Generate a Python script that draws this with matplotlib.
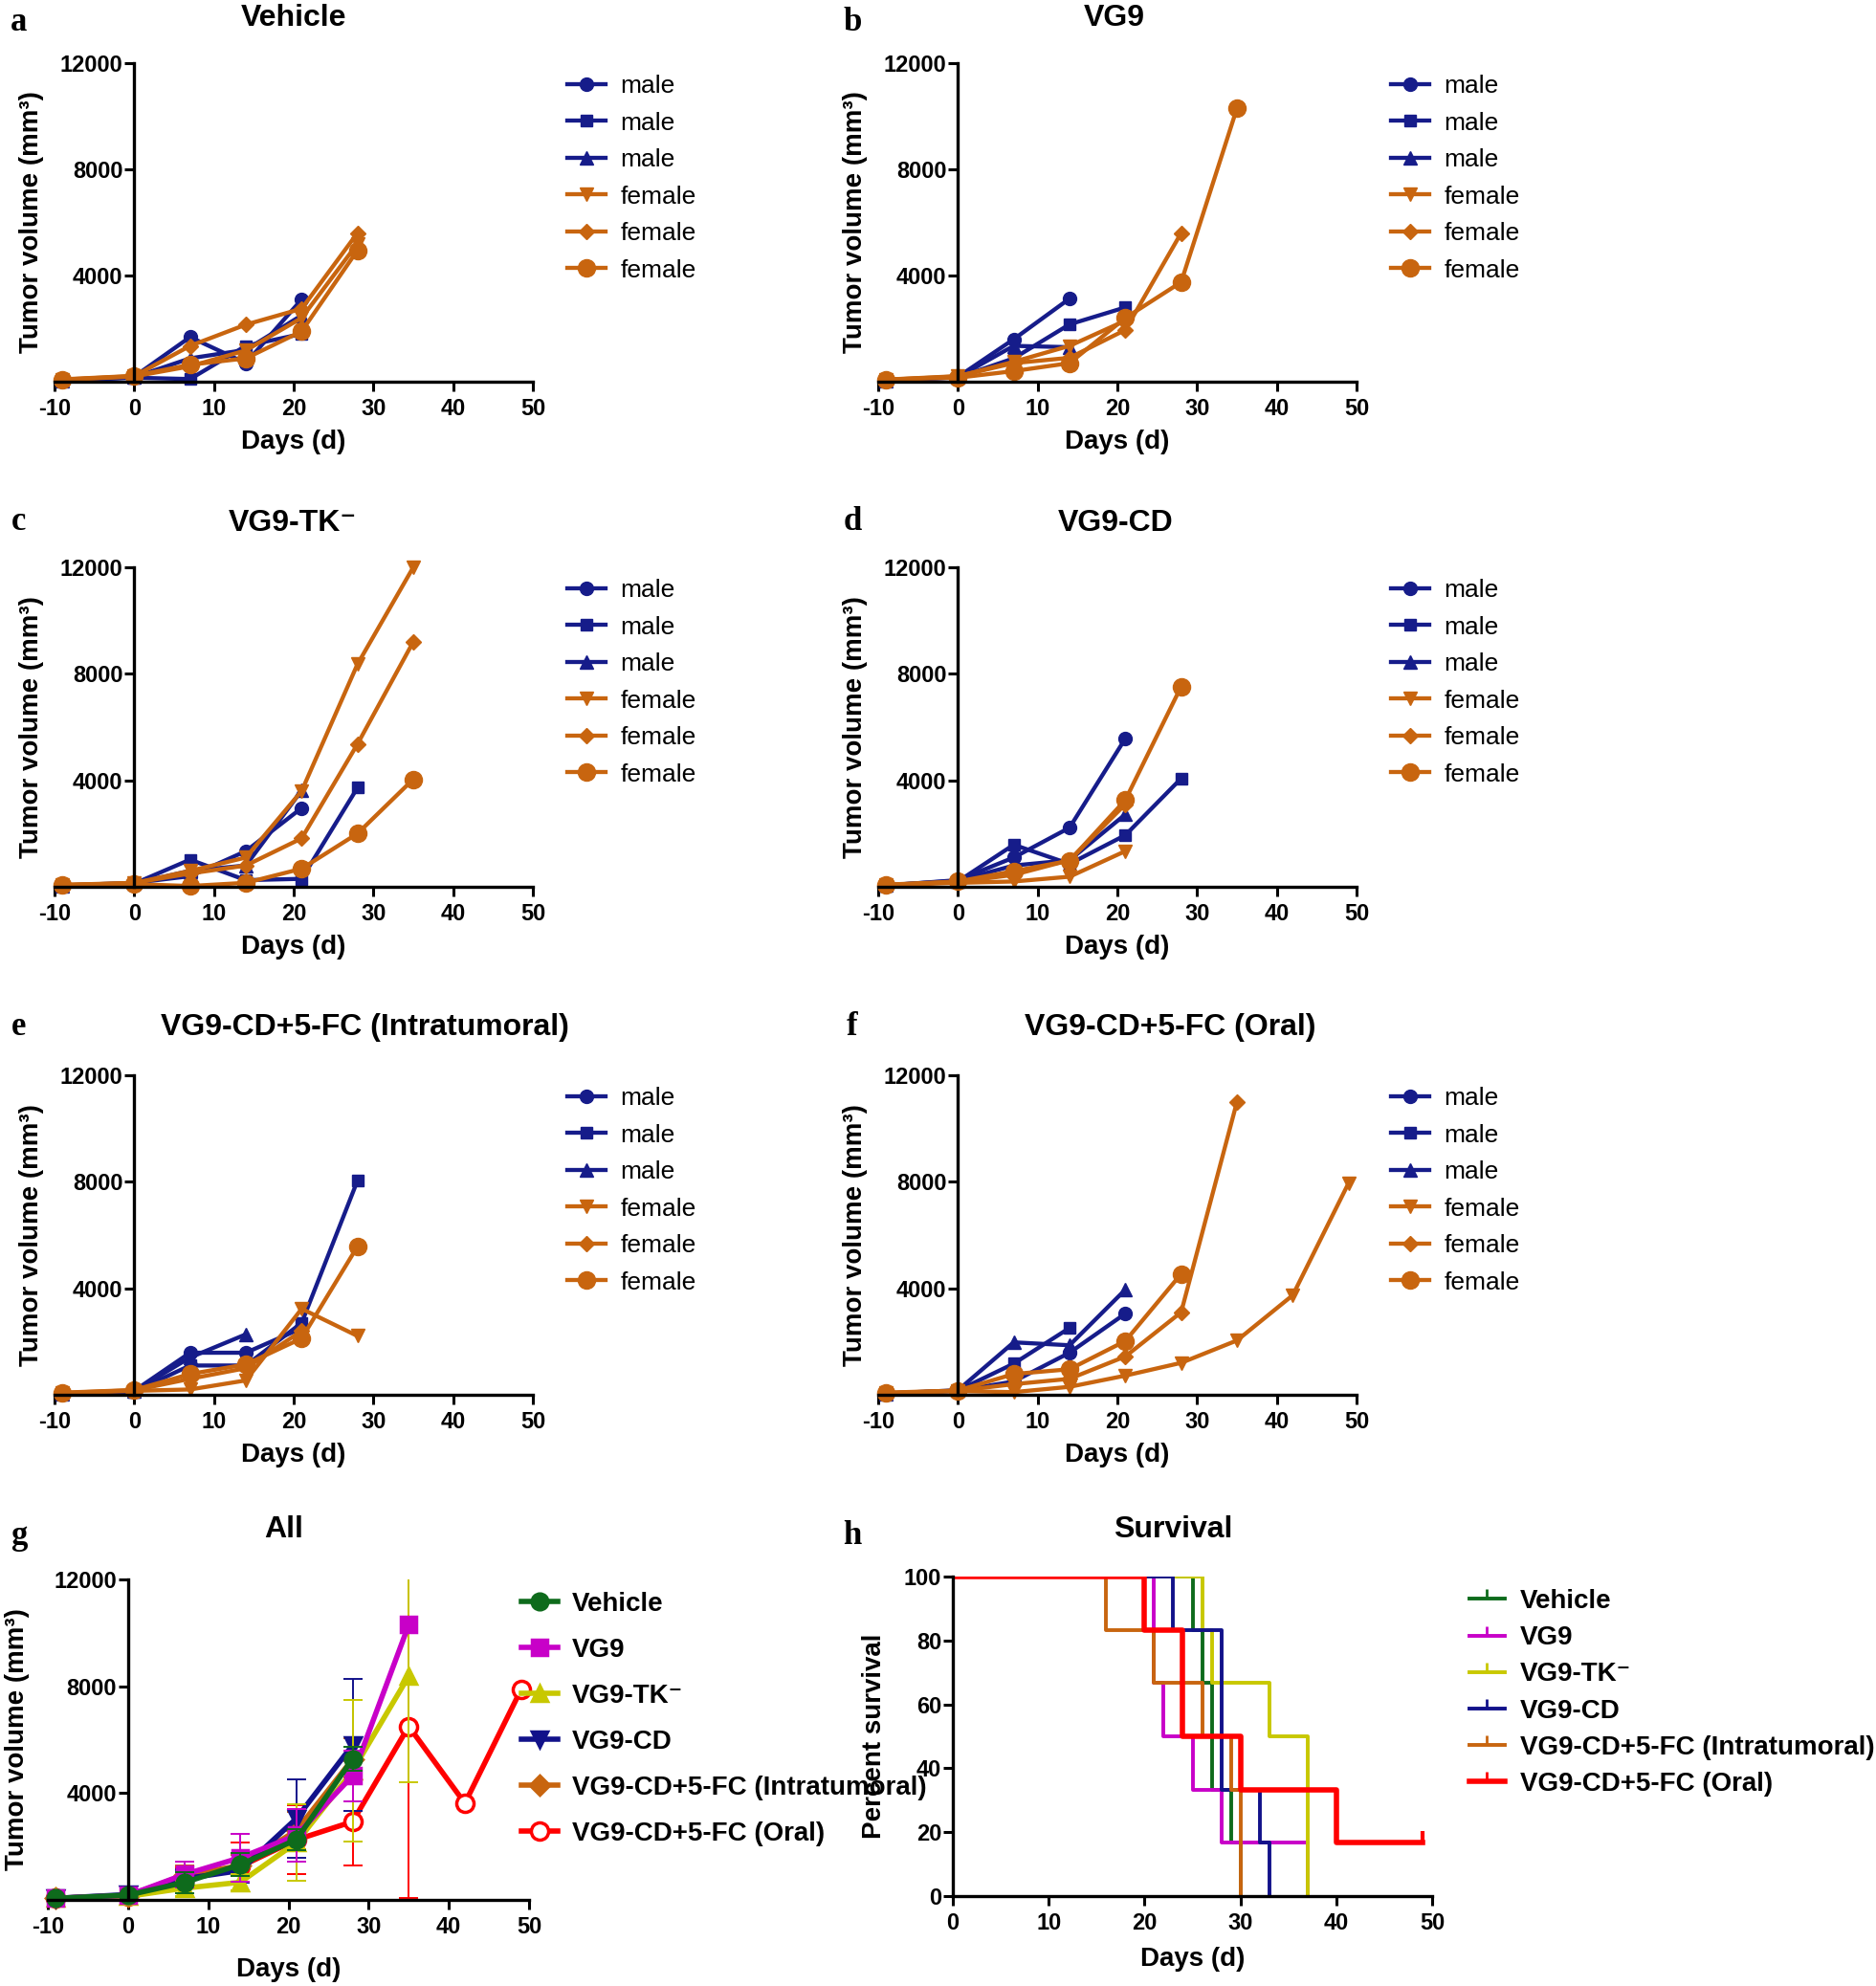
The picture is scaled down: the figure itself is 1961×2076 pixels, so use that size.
import matplotlib
matplotlib.use('Agg')
import matplotlib.pyplot as plt
from matplotlib.lines import Line2D

plt.rcParams['font.family'] = ['Liberation Sans', 'DejaVu Sans']
plt.rcParams['font.weight'] = 'bold'

W, H = 1961, 2076
NAVY = '#161C8A'
ORANGE = '#C8650F'

# measurement days; every series starts at day -9
days = [-9, 0, 7, 14, 21, 28, 35, 42, 49]

# individual tumour volumes (mm^3): 3 males then 3 females per group
vehicle_mice = [
    [60, 190, 1680, 700, 3100],
    [40, 150, 100, 1350, 1800],
    [50, 170, 880, 1200, 2500],
    [70, 200, 580, 1180, 2400, 5200],
    [80, 210, 1350, 2150, 2750, 5600],
    [90, 220, 640, 880, 1900, 4950],
]
vg9_mice = [
    [60, 180, 1600, 3130],
    [50, 160, 880, 2160, 2800],
    [50, 170, 1350, 1300],
    [70, 200, 750, 1350, 2300],
    [80, 210, 700, 900, 1950, 5600],
    [90, 150, 400, 700, 2400, 3750, 10300],
]
tk_mice = [
    [50, 150, 400, 1340, 2960],
    [40, 120, 1020, 250, 300, 3720],
    [50, 130, 600, 800, 3620],
    [60, 140, 600, 1100, 3600, 8360, 12000],
    [70, 150, 500, 800, 1820, 5360, 9200],
    [80, 100, 30, 150, 680, 2000, 4040],
]
cd_mice = [
    [50, 250, 1100, 2220, 5570],
    [40, 200, 1580, 860, 1940, 4070],
    [60, 230, 800, 1000, 2720],
    [60, 150, 200, 380, 1340],
    [70, 180, 450, 1000, 3100],
    [80, 200, 590, 980, 3260, 7520],
]
it_mice = [
    [50, 150, 1580, 1580, 2500],
    [40, 120, 1100, 1100, 2700, 8040],
    [50, 140, 1400, 2270],
    [60, 150, 200, 540, 3230, 2210],
    [70, 170, 600, 1000, 2400],
    [80, 180, 780, 1140, 2120, 5570],
]
oral_mice = [
    [50, 150, 500, 1580, 3050],
    [40, 160, 1170, 2510],
    [50, 170, 1970, 1860, 3950],
    [60, 140, 100, 300, 720, 1200, 2040, 3740, 7950],
    [70, 150, 400, 600, 1440, 3100, 11000],
    [80, 160, 780, 960, 2020, 4540],
]
mouse_labels = ['male', 'male', 'male', 'female', 'female', 'female']

# group means and SEM (panel g)
group_names = ['Vehicle', 'VG9', 'VG9-TK⁻', 'VG9-CD',
               'VG9-CD+5-FC (Intratumoral)', 'VG9-CD+5-FC (Oral)']
veh_mean = [60, 180, 650, 1320, 2260, 5280]
veh_sem = [10, 20, 400, 420, 400, 450]
vg9_mean = [60, 170, 950, 1580, 2420, 4650, 10300]
vg9_sem = [10, 20, 480, 900, 1000, 950, 0]
tk_mean = [60, 130, 440, 660, 2150, 4830, 8380]
tk_sem = [10, 20, 280, 300, 1450, 2660, 3980]
cd_mean = [60, 200, 790, 1100, 3050, 5800]
cd_sem = [10, 20, 350, 450, 1470, 2460]
it_mean = [60, 150, 930, 1280, 2600, 5270]
it_sem = [10, 20, 350, 400, 700, 800]
oral_mean = [60, 160, 820, 1250, 2250, 2930, 6500, 3620, 7870]
oral_sem = [10, 20, 400, 900, 1300, 1650, 6420, 0, 0]

# survival (Kaplan-Meier steps, percent)
veh_t = [0, 25, 26, 27, 29, 30]
veh_s = [100, 83.3, 66.7, 33.3, 16.7, 0]
vg9_t = [0, 21, 22, 25, 28, 37]
vg9_s = [100, 66.7, 50, 33.3, 16.7, 0]
tk_t = [0, 26, 27, 33, 37]
tk_s = [100, 83.3, 66.7, 50, 0]
cd_t = [0, 23, 28, 32, 33]
cd_s = [100, 83.3, 33.3, 16.7, 0]
it_t = [0, 16, 21, 26, 29, 30]
it_s = [100, 83.3, 66.7, 50, 33.3, 0]
oral_t = [0, 20, 24, 30, 40, 49]
oral_s = [100, 83.3, 50, 33.3, 16.7, 16.7]

group_colors = ['#0E6B1C', '#C800C8', '#C8C800', '#12128A', ORANGE, '#FF0000']

volume_xticks = [-10, 0, 10, 20, 30, 40, 50]
volume_yticks = [4000, 8000, 12000]
surv_xticks = [0, 10, 20, 30, 40, 50]
surv_yticks = [0, 20, 40, 60, 80, 100]

fig = plt.figure(figsize=(W / 100, H / 100), dpi=100)


def add_axes(x0, y0, x1, y1):
    return fig.add_axes([x0 / W, 1 - y1 / H, (x1 - x0) / W, (y1 - y0) / H])


def style(ax, xticks, yticks, xlab_y, ylab_x, ylabel):
    for s in ('top', 'right'):
        ax.spines[s].set_visible(False)
    for s in ('left', 'bottom'):
        ax.spines[s].set_linewidth(2.4)
    ax.set_xticks(xticks, [str(t) for t in xticks], fontsize=17, fontweight='bold')
    ax.set_yticks(yticks, [str(t) for t in yticks], fontsize=17, fontweight='bold')
    ax.tick_params(width=2.2, length=7, direction='out')
    ax.tick_params(axis='y', pad=1.5)
    ax.tick_params(axis='x', pad=5)
    ax.set_xlabel('Days (d)', fontsize=20, fontweight='bold', va='center')
    ax.xaxis.set_label_coords(0.5, xlab_y)
    ax.set_ylabel(ylabel, fontsize=20, fontweight='bold', va='center')
    ax.yaxis.set_label_coords(ylab_x, 0.5)


def fig_text(x, y, s, **kw):
    fig.text(x / W, 1 - y / H, s, ha='center', va='center', **kw)


# panels a-f
mouse_markers = ['o', 's', '^', 'v', 'D', 'o']
mouse_sizes = [10, 9, 10, 10, 8, 13]
mouse_colors = [NAVY, NAVY, NAVY, ORANGE, ORANGE, ORANGE]

panels = [
    ('a', 'Vehicle', vehicle_mice, (57, 66, 557, 399), (307, 19), (20, 24)),
    ('b', 'VG9', vg9_mice, (918, 66, 1418, 399), (1165, 19), (891, 24)),
    ('c', 'VG9-TK⁻', tk_mice, (57, 593, 557, 927), (306, 547), (20, 545)),
    ('d', 'VG9-CD', cd_mice, (918, 593, 1418, 927), (1166, 547), (891, 545)),
    ('e', 'VG9-CD+5-FC (Intratumoral)', it_mice, (57, 1124, 557, 1458), (381, 1074), (20, 1074)),
    ('f', 'VG9-CD+5-FC (Oral)', oral_mice, (918, 1124, 1418, 1458), (1223, 1074), (891, 1074)),
]

for letter, title, mice, rect, tpos, lpos in panels:
    ax = add_axes(*rect)
    handles = []
    for vals, mk, ms, col, lab in zip(mice, mouse_markers, mouse_sizes, mouse_colors, mouse_labels):
        h, = ax.plot(days[:len(vals)], vals, color=col, lw=3.1, marker=mk, ms=ms,
                     clip_on=False, label=lab)
        handles.append(h)
    ax.set_xlim(-10, 50)
    ax.set_ylim(0, 12000)
    ax.spines['left'].set_position(('data', 0))
    style(ax, volume_xticks, volume_yticks, -63 / (rect[3] - rect[1]), -24 / 500,
          'Tumor volume (mm³)')
    row1 = rect[1] + 23
    ax.legend(handles=handles, loc='upper left',
              bbox_to_anchor=((rect[0] + 536) / W, 1 - (row1 - 11) / H),
              bbox_transform=fig.transFigure, frameon=False, borderpad=0,
              borderaxespad=0, handlelength=1.5, handletextpad=0.6,
              labelspacing=0.55, prop={'weight': 'normal', 'size': 19})
    fig_text(*tpos, title, fontsize=23, fontweight='bold')
    fig_text(*lpos, letter, fontsize=25, fontweight='bold', family='Liberation Serif')

# panel g
axg = add_axes(50, 1651, 553, 1986)
g_means = [veh_mean, vg9_mean, tk_mean, cd_mean, it_mean, oral_mean]
g_sems = [veh_sem, vg9_sem, tk_sem, cd_sem, it_sem, oral_sem]
g_markers = ['o', 's', '^', 'v', 'D', 'o']
g_sizes = [12, 11, 12, 12, 10, 13]
g_handles = [None] * 6
for i in [5, 4, 3, 2, 1, 0]:
    m, e, col = g_means[i], g_sems[i], group_colors[i]
    x = days[:len(m)]
    xe = [d for d, s in zip(x, e) if s > 0]
    ye = [v for v, s in zip(m, e) if s > 0]
    ee = [s for s in e if s > 0]
    axg.errorbar(xe, ye, yerr=ee, fmt='none', ecolor=col, elinewidth=1.4,
                 capsize=7, capthick=1.4)
    face = 'white' if i == 5 else col
    h, = axg.plot(x, m, color=col, lw=4, marker=g_markers[i], ms=g_sizes[i],
                  mfc=face, mec=col, mew=2.5, clip_on=False, label=group_names[i])
    g_handles[i] = h
axg.set_xlim(-10, 50)
axg.set_ylim(0, 12000)
axg.spines['left'].set_position(('data', 0))
style(axg, volume_xticks, volume_yticks, -73 / 335, -31.5 / 503, 'Tumor volume (mm³)')
axg.legend(handles=g_handles, loc='upper left',
           bbox_to_anchor=(545 / W, 1 - (1673 - 9) / H), bbox_transform=fig.transFigure,
           frameon=False, borderpad=0, borderaxespad=0, handlelength=1.37,
           handletextpad=0.54, labelspacing=0.79, prop={'weight': 'bold', 'size': 20})
fig_text(297, 1599, 'All', fontsize=23, fontweight='bold')
fig_text(20, 1605, 'g', fontsize=25, fontweight='bold', family='Liberation Serif')

# panel h
axh = add_axes(996, 1648, 1497, 1982)
s_t = [veh_t, vg9_t, tk_t, cd_t, it_t, oral_t]
s_s = [veh_s, vg9_s, tk_s, cd_s, it_s, oral_s]
s_lw = [2.8, 2.8, 2.8, 2.8, 2.8, 4.0]
for t, s, col, lw in zip(s_t, s_s, group_colors, s_lw):
    axh.step(t, s, where='post', color=col, lw=lw)
axh.plot(oral_t[-1:], oral_s[-1:], color=group_colors[5], marker=2, ms=9, mew=3)
axh.set_xlim(0, 50)
axh.set_ylim(0, 100)
style(axh, surv_xticks, surv_yticks, -66 / 334, -82 / 501, 'Percent survival')
h_handles = [Line2D([], [], color=c, lw=lw, marker=2, ms=7, mew=2)
             for c, lw in zip(group_colors, s_lw)]
axh.legend(h_handles, group_names, loc='upper left',
           bbox_to_anchor=(1536 / W, 1 - (1670 - 9) / H), bbox_transform=fig.transFigure,
           frameon=False, borderpad=0, borderaxespad=0, handlelength=1.33,
           handletextpad=0.58, labelspacing=0.44, prop={'weight': 'bold', 'size': 20})
fig_text(1226, 1599, 'Survival', fontsize=23, fontweight='bold')
fig_text(891, 1605, 'h', fontsize=25, fontweight='bold', family='Liberation Serif')

fig.savefig('out.png', dpi=100)
